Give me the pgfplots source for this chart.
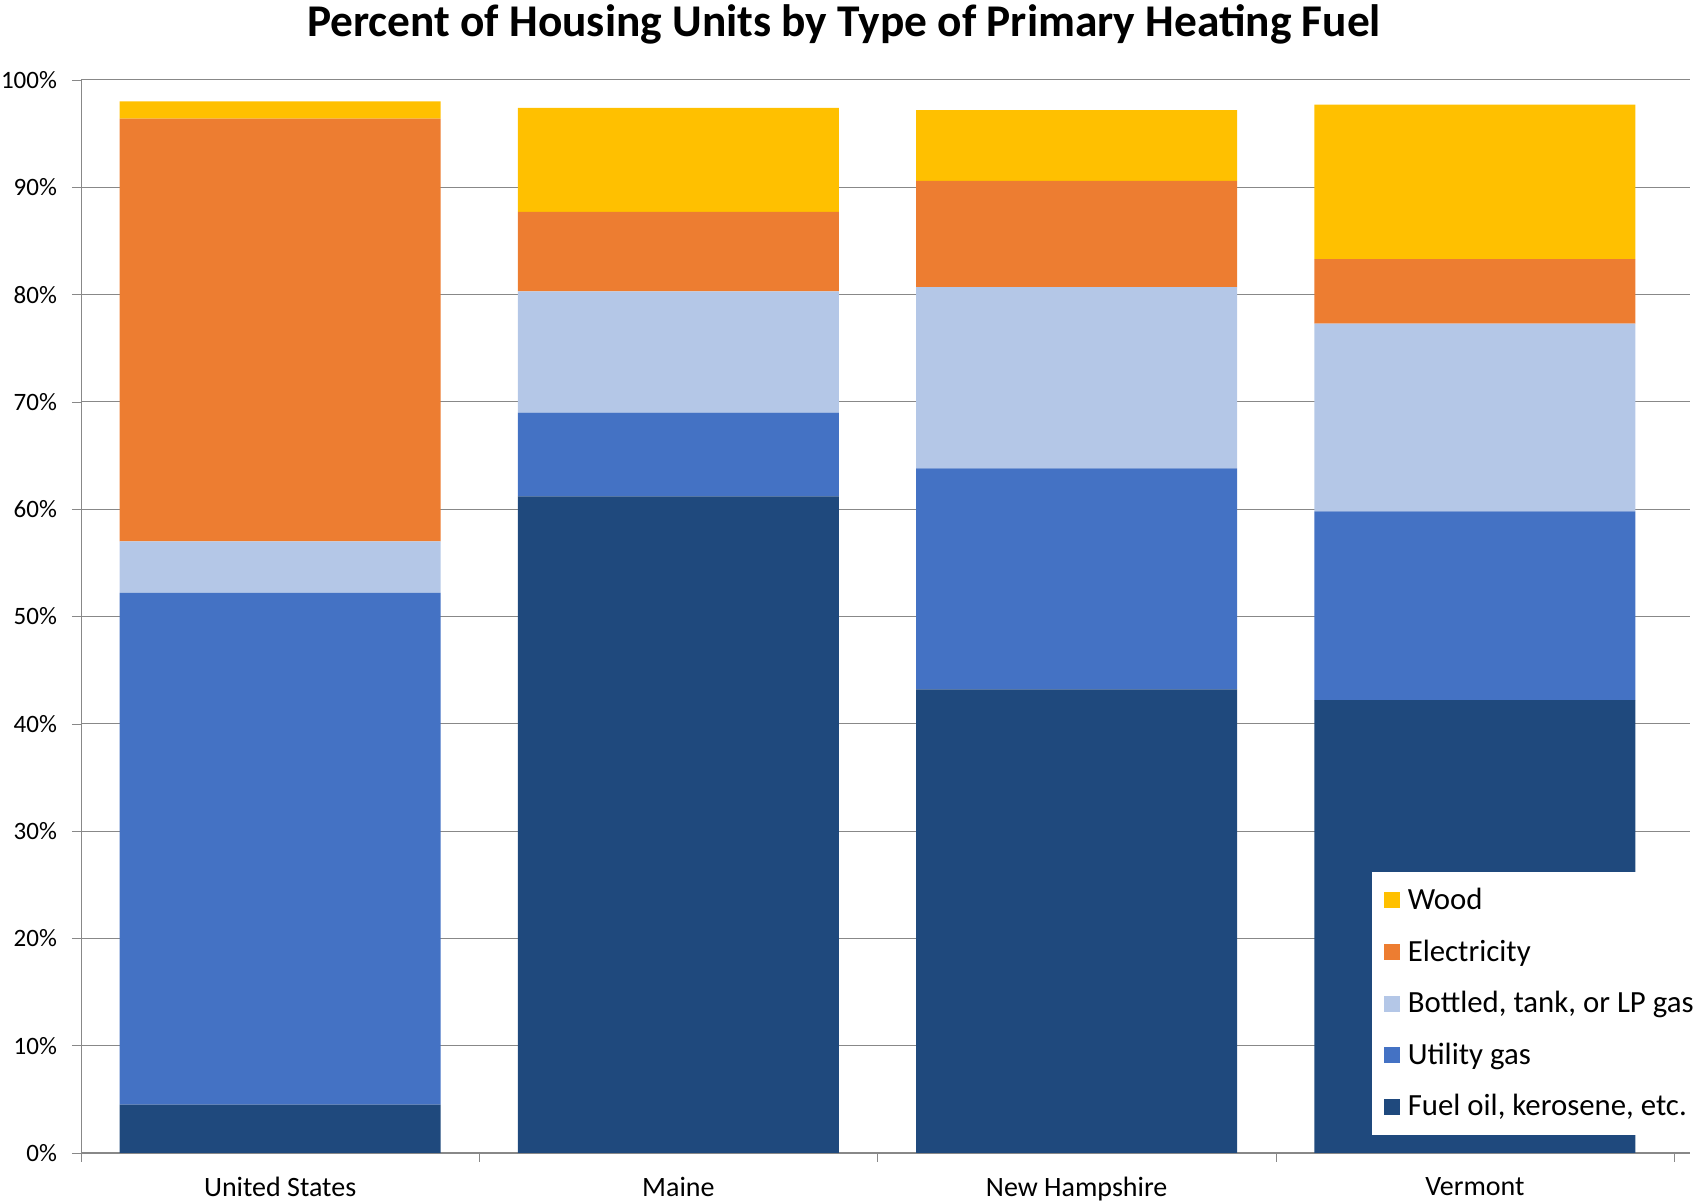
\documentclass[border=0pt]{standalone}
\usepackage{pgfplots}
\pgfplotsset{compat=1.18}
\usepackage{fontspec}
\setmainfont{Carlito}

\definecolor{cWood}{HTML}{FFC000}
\definecolor{cElec}{HTML}{ED7D31}
\definecolor{cBottled}{HTML}{B4C7E7}
\definecolor{cUtil}{HTML}{4472C4}
\definecolor{cOil}{HTML}{1F497D}
\definecolor{gridgray}{HTML}{888888}

\begin{document}
\begin{tikzpicture}
\begin{axis}[
    at={(40.5pt,24.5pt)}, anchor=south west,
    scale only axis,
    width=804.5pt, height=536.5pt,
    ybar stacked,
    bar width=160.5pt,
    xmin=-0.5, xmax=3.54,
    ymin=0, ymax=100,
    axis x line*=bottom,
    axis y line*=left,
    axis line style={gridgray},
    xtick={0,1,2,3},
    xticklabels={United States,Maine,New Hampshire,Vermont},
    x tick label style={font=\fontsize{14}{16}\selectfont, yshift=-4pt},
    minor xtick={-0.5,0.5,1.5,2.5,3.5},
    major x tick style={draw=none},
    minor x tick style={gridgray},
    ytick={0,10,...,100},
    yticklabels={0\%,10\%,20\%,30\%,40\%,50\%,60\%,70\%,80\%,90\%,100\%},
    y tick label style={font=\fontsize{12.5}{15}\selectfont, xshift=-4pt},
    y tick style={gridgray},
    tick align=outside,
    major tick length=4.5pt,
    minor tick length=4.5pt,
    ymajorgrids,
    grid style={gridgray, line width=0.5pt},
    legend cell align=left,
    reverse legend,
    legend style={
        at={(axis cs:2.74,26.2)}, anchor=north west,
        draw=none, fill=white,
        font=\fontsize{15.4}{18}\selectfont,
        row sep=9.6pt,
        inner xsep=6pt, inner ysep=6pt,
        nodes={inner xsep=4pt},
    },
    legend image code/.code={
        \fill[#1] (0pt,-4pt) rectangle (8pt,4pt);
    },
]
% Fuel oil, kerosene, etc.
\addplot[fill=cOil, draw=none] coordinates {(0,4.5) (1,61.2) (2,43.2) (3,42.2)};
\addlegendentry{Fuel oil, kerosene, etc.}
% Utility gas
\addplot[fill=cUtil, draw=none] coordinates {(0,47.7) (1,7.8) (2,20.6) (3,17.6)};
\addlegendentry{Utility gas}
% Bottled, tank, or LP gas
\addplot[fill=cBottled, draw=none] coordinates {(0,4.8) (1,11.3) (2,16.9) (3,17.5)};
\addlegendentry{Bottled, tank, or LP gas}
% Electricity
\addplot[fill=cElec, draw=none] coordinates {(0,39.4) (1,7.4) (2,9.9) (3,6.0)};
\addlegendentry{Electricity}
% Wood
\addplot[fill=cWood, draw=none] coordinates {(0,1.6) (1,9.7) (2,6.6) (3,14.4)};
\addlegendentry{Wood}
\end{axis}
\node[font=\bfseries\fontsize{22.7}{26}\selectfont] at (422pt,589pt)
    {Percent of Housing Units by Type of Primary Heating Fuel};
\pgfresetboundingbox
\path[use as bounding box] (0,0) rectangle (846.5pt,601pt);
\end{tikzpicture}
\end{document}
